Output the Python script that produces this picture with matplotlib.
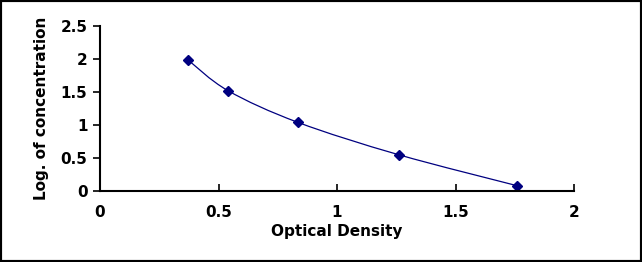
import matplotlib
matplotlib.use("Agg")
import matplotlib.pyplot as plt
from matplotlib.path import Path
from matplotlib.patches import PathPatch, Rectangle
import numpy as np

# standard curve points
od = [0.37, 0.54, 0.835, 1.26, 1.76]
log_conc = [1.99, 1.52, 1.04, 0.55, 0.08]

xticks = [0, 0.5, 1, 1.5, 2]
xtick_labels = ["0", "0.5", "1", "1.5", "2"]
yticks = [0, 0.5, 1, 1.5, 2, 2.5]
ytick_labels = ["0", "0.5", "1", "1.5", "2", "2.5"]

navy = "#000080"
plt.rcParams['font.family'] = ['DejaVu Sans']

fig = plt.figure(figsize=(6.42, 2.62), dpi=100)
ax = fig.add_axes([100 / 642, 71 / 262, 474 / 642, 165 / 262])

# smooth line like excel: bezier segments through the points
x = np.array(od)
y = np.array(log_conc)
verts = [(x[0], y[0])]
codes = [Path.MOVETO]
n = len(x)
for i in range(n - 1):
    p0 = (x[max(i - 1, 0)], y[max(i - 1, 0)])
    p1 = (x[i], y[i])
    p2 = (x[i + 1], y[i + 1])
    p3 = (x[min(i + 2, n - 1)], y[min(i + 2, n - 1)])
    c1 = (p1[0] + (p2[0] - p0[0]) / 6, p1[1] + (p2[1] - p0[1]) / 6)
    c2 = (p2[0] - (p3[0] - p1[0]) / 6, p2[1] - (p3[1] - p1[1]) / 6)
    verts += [c1, c2, p2]
    codes += [Path.CURVE4] * 3
ax.add_patch(PathPatch(Path(verts, codes), facecolor="none", edgecolor=navy, lw=0.9))
ax.plot(od, log_conc, linestyle="none", marker="D", markersize=5, color=navy)

ax.set_xlim(0, 2)
ax.set_ylim(0, 2.5)
ax.set_xticks(xticks)
ax.set_xticklabels(xtick_labels)
ax.set_yticks(yticks)
ax.set_yticklabels(ytick_labels)
for s in ["top", "right"]:
    ax.spines[s].set_visible(False)
for s in ["left", "bottom"]:
    ax.spines[s].set_linewidth(1.5)
ax.tick_params(axis="x", direction="in", length=5, width=1.2, pad=10, labelsize=11)
ax.tick_params(axis="y", direction="out", length=5, width=1.2, pad=4, labelsize=11)
for lbl in ax.get_xticklabels() + ax.get_yticklabels():
    lbl.set_fontweight("bold")

ax.set_xlabel("Optical Density", fontsize=11, fontweight="bold", labelpad=3)
ax.set_ylabel("Log. of concentration", fontsize=11, fontweight="bold", labelpad=8)

fig.patches.append(Rectangle((0, 0), 1, 1, transform=fig.transFigure, fill=False,
                             edgecolor="black", linewidth=3, zorder=10))

fig.savefig("out.png", dpi=100)
